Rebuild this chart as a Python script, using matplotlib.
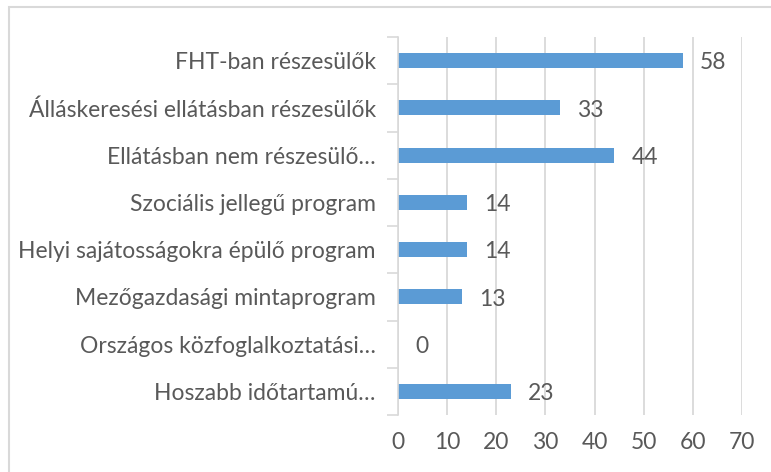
import matplotlib.pyplot as plt
from matplotlib.patches import Rectangle

plt.rcParams['font.family'] = ['Lato', 'DejaVu Sans']

categories = ['FHT-ban részesülők',
              'Álláskeresési ellátásban részesülők',
              'Ellátásban nem részesülő…',
              'Szociális jellegű program',
              'Helyi sajátosságokra épülő program',
              'Mezőgazdasági mintaprogram',
              'Országos közfoglalkoztatási…',
              'Hoszabb időtartamú…']
values = [58, 33, 44, 14, 14, 13, 0, 23]
xticks = [0, 10, 20, 30, 40, 50, 60, 70]

text_color = '#595959'
grid_color = '#D9D9D9'
bar_color = '#5B9BD5'
fs = 16.5

W, H = 771, 472
fig = plt.figure(figsize=(W / 100, H / 100), dpi=100)
ax = fig.add_axes([398 / W, 1 - 415 / H, (742 - 398) / W, (415 - 37) / H])

n = len(categories)
ypos = list(range(n))
bars = ax.barh(ypos, values, height=0.32, color=bar_color, zorder=2)
for y, v in zip(ypos, values):
    ax.text(v + 3.5, y + 0.05, str(v), va='center', ha='left', fontsize=fs,
            color=text_color)

ax.set_ylim(n - 0.5, -0.5)
ax.set_xlim(0, 70)
ax.set_xticks(xticks)
ax.set_xticklabels([str(t) for t in xticks], fontsize=fs, color=text_color)
ax.tick_params(axis='x', length=0, pad=12)

# category labels, ticks between categories like Excel
ax.set_yticks(ypos)
ax.set_yticklabels(categories, fontsize=fs, color=text_color)
ax.tick_params(axis='y', which='major', length=0, pad=16)
ax.set_yticks([i - 0.5 for i in range(n + 1)], minor=True)
ax.tick_params(axis='y', which='minor', length=8, color=grid_color, width=1.2)

ax.grid(axis='x', color=grid_color, linewidth=1.3, zorder=0)
ax.set_axisbelow(True)
for s in ['top', 'right', 'bottom']:
    ax.spines[s].set_visible(False)
ax.spines['left'].set_color(grid_color)
ax.spines['left'].set_linewidth(1.2)

fig.patches.append(Rectangle((8.5 / W, -0.1), 1.2, 1 - 7 / H + 0.1,
                             transform=fig.transFigure, fill=False,
                             edgecolor='#D9D9D9', linewidth=1.5))

fig.savefig('out.png', dpi=100)
